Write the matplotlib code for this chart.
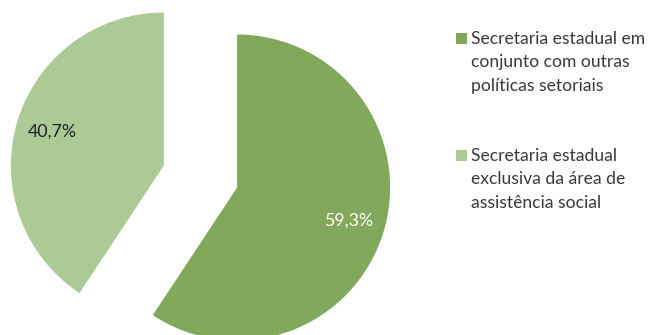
import matplotlib
matplotlib.use("Agg")
import matplotlib.pyplot as plt
from matplotlib.patches import Rectangle
import numpy as np

plt.rcParams['font.family'] = ['Lato', 'DejaVu Sans']

categories = [
    "Secretaria estadual em\nconjunto com outras\npolíticas setoriais",
    "Secretaria estadual\nexclusiva da área de\nassistência social",
]
values = [59.3, 40.7]
value_labels = ["59,3%", "40,7%"]
colors = ["#82A85C", "#ABCA96"]
label_colors = ["white", "#222222"]

W, H = 651, 335
fig = plt.figure(figsize=(W / 100, H / 100), dpi=100)
ax = fig.add_axes([0, 0, 1, 1])

wedges, _ = ax.pie(values, colors=colors, startangle=90, counterclock=False,
                   explode=[0.25, 0.25], radius=1.0)

# value labels placed inside each exploded wedge
for w, lab, col in zip(wedges, value_labels, label_colors):
    mid = np.deg2rad((w.theta1 + w.theta2) / 2)
    cx, cy = w.center
    ax.text(cx + 0.76 * np.cos(mid), cy + 0.76 * np.sin(mid), lab,
            ha="center", va="center", fontsize=12.8, color=col)

scale = 153.0
cx_px, cy_px = 200.5, 176.5
ax.set_xlim(-cx_px / scale, (W - cx_px) / scale)
ax.set_ylim((cy_px - H) / scale, cy_px / scale)
ax.set_aspect("auto")
ax.axis("off")

# legend: square swatch aligned with the first line of each label
legend_y = [38, 155]
for cat, col, y in zip(categories, colors, legend_y):
    fig.patches.append(Rectangle((456 / W, 1 - (y + 5.5) / H), 11 / W, 11 / H,
                                 transform=fig.transFigure, facecolor=col,
                                 edgecolor="none"))
    fig.text(471 / W, 1 - (y - 7) / H, cat, ha="left", va="top",
             fontsize=12.6, color="#3a3a3a", linespacing=1.57)

fig.savefig("out.png", dpi=100)
